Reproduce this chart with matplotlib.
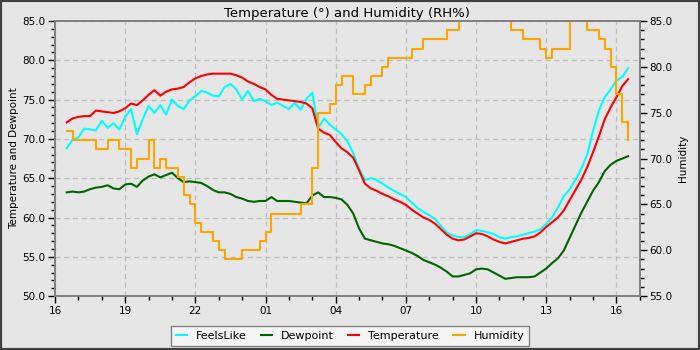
import numpy as np
import matplotlib
matplotlib.use("Agg")
import matplotlib.pyplot as plt
from matplotlib.patches import Rectangle
from matplotlib.ticker import MultipleLocator, FormatStrFormatter, FixedLocator

# hours after 16:00, one reading every 15 minutes (16:30 -> 16:30 next day)
hours = [0.5 + 0.25 * i for i in range(97)]

temperature = [
    72.1, 72.6, 72.8, 72.9, 72.9, 73.6, 73.5, 73.4, 73.3, 73.5,
    73.9, 74.5, 74.3, 74.9, 75.6, 76.2, 75.5, 76.0, 76.3, 76.4,
    76.6, 77.2, 77.7, 78.0, 78.2, 78.3, 78.3, 78.3, 78.3, 78.1,
    77.8, 77.3, 77.0, 76.6, 76.3, 75.6, 75.1, 75.0, 74.9, 74.8,
    74.7, 74.5, 73.9, 71.3, 70.8, 70.5, 69.6, 68.8, 68.3, 67.6,
    66.0, 64.3, 63.7, 63.4, 63.0, 62.7, 62.3, 62.0, 61.6, 61.0,
    60.5, 60.0, 59.7, 59.2, 58.5, 57.8, 57.3, 57.1, 57.2, 57.6,
    58.0, 57.9, 57.6, 57.2, 56.9, 56.7, 56.9, 57.1, 57.3, 57.4,
    57.6, 58.1, 58.8, 59.4, 60.0, 60.9, 62.2, 63.5, 64.8, 66.4,
    68.3, 70.3, 72.5, 74.0, 75.3, 76.7, 77.6,
]

dewpoint = [
    63.2, 63.3, 63.2, 63.3, 63.6, 63.8, 63.9, 64.1, 63.7, 63.6,
    64.2, 64.3, 63.9, 64.7, 65.2, 65.5, 65.1, 65.4, 65.7, 65.0,
    64.5, 64.6, 64.5, 64.4, 64.0, 63.5, 63.2, 63.2, 63.0, 62.6,
    62.4, 62.1, 62.0, 62.1, 62.1, 62.6, 62.1, 62.1, 62.1, 62.0,
    61.9, 61.8, 62.8, 63.2, 62.6, 62.6, 62.5, 62.3, 61.6, 60.5,
    58.6, 57.3, 57.1, 56.9, 56.7, 56.6, 56.4, 56.1, 55.8, 55.5,
    55.1, 54.6, 54.3, 54.0, 53.6, 53.1, 52.5, 52.5, 52.7, 52.9,
    53.4, 53.5, 53.4, 53.0, 52.6, 52.2, 52.3, 52.4, 52.4, 52.4,
    52.5, 53.0, 53.5, 54.2, 54.8, 55.8, 57.4, 59.0, 60.6, 62.0,
    63.4, 64.5, 65.9, 66.7, 67.2, 67.5, 67.8,
]

feels_like = [
    68.8, 69.9, 70.2, 71.3, 71.2, 71.1, 72.3, 71.4, 72.0, 71.2,
    72.8, 73.8, 70.6, 72.5, 74.2, 73.3, 74.3, 73.1, 75.0, 74.2,
    73.8, 74.9, 75.4, 76.1, 75.9, 75.5, 75.4, 76.6, 77.0, 76.3,
    75.0, 76.1, 74.8, 75.1, 74.8, 74.3, 74.6, 74.2, 73.8, 74.6,
    73.7, 75.1, 75.9, 71.4, 72.6, 71.8, 71.2, 70.6, 69.7, 68.2,
    66.2, 64.8, 65.0, 64.8, 64.3, 63.8, 63.4, 63.0, 62.6, 61.9,
    61.2, 60.7, 60.3, 59.8, 58.9, 58.1, 57.7, 57.5, 57.5, 57.9,
    58.4, 58.3, 58.1, 57.9, 57.5, 57.3, 57.5, 57.6, 57.8, 58.0,
    58.2, 58.5, 59.2, 60.0, 61.3, 62.7, 63.6, 64.8, 66.2, 68.0,
    71.0, 73.6, 75.3, 76.3, 77.4, 77.9, 79.0,
]

humidity = [
    73, 72, 72, 72, 72, 71, 71, 72, 72, 71,
    71, 69, 70, 70, 72, 69, 70, 69, 69, 68,
    66, 65, 63, 62, 62, 61, 60, 59, 59, 59,
    60, 60, 60, 61, 62, 64, 64, 64, 64, 64,
    65, 65, 69, 75, 75, 76, 78, 79, 79, 77,
    77, 78, 79, 79, 80, 81, 81, 81, 81, 82,
    82, 83, 83, 83, 83, 84, 84, 86, 86, 86,
    86, 86, 86, 86, 86, 86, 84, 84, 83, 83,
    83, 82, 81, 82, 82, 82, 86, 86, 86, 84,
    84, 83, 82, 80, 77, 74, 72,
]

tick_hours = [0, 3, 6, 9, 12, 15, 18, 21, 24]
tick_labels = ["16", "19", "22", "01", "04", "07", "10", "13", "16"]

bg = "#e6e6e6"
fig = plt.figure(figsize=(7, 3.5), dpi=100, facecolor=bg)
ax = fig.add_axes([0.0786, 0.154, 0.8354, 0.786])
ax.set_facecolor(bg)
ax2 = ax.twinx()

l1, = ax.plot(hours, feels_like, color="#00ffff", lw=1.5, label="FeelsLike")
l2, = ax.plot(hours, dewpoint, color="#006400", lw=1.5, label="Dewpoint")
l3, = ax.plot(hours, temperature, color="#ff0000", lw=1.5, label="Temperature")
l4, = ax2.plot(hours, humidity, color="#ffa500", lw=1.5, drawstyle="steps-post", label="Humidity")

ax.set_xlim(0, 25)
ax.set_ylim(50, 85)
ax2.set_ylim(55, 85)

ax.xaxis.set_major_locator(FixedLocator(tick_hours))
ax.set_xticklabels(tick_labels)
ax.xaxis.set_minor_locator(MultipleLocator(1))
ax.yaxis.set_major_locator(MultipleLocator(5))
ax.yaxis.set_minor_locator(MultipleLocator(1))
ax.yaxis.set_major_formatter(FormatStrFormatter("%.1f"))
ax2.yaxis.set_major_locator(MultipleLocator(5))
ax2.yaxis.set_minor_locator(MultipleLocator(1))
ax2.yaxis.set_major_formatter(FormatStrFormatter("%.1f"))

for a in (ax, ax2):
    a.tick_params(which="major", length=5, width=1, labelsize=7.5, colors="black", pad=2)
    a.tick_params(which="minor", length=3, width=1)
    for s in a.spines.values():
        s.set_color("#808080")
        s.set_linewidth(1.2)

ax.grid(True, which="major", color="#bdbdbd", linestyle=(0, (4, 3)), linewidth=0.9)
ax.set_axisbelow(True)

ax.set_title("Temperature (°) and Humidity (RH%)", fontsize=9.5, pad=3)
ax.set_ylabel("Temperature and Dewpoint", fontsize=7.5, labelpad=2)
ax2.set_ylabel("Humidity", fontsize=7.5, labelpad=4)

leg = fig.legend(handles=[l1, l2, l3, l4], loc="center", bbox_to_anchor=(0.5, 0.04),
                 ncol=4, fontsize=8, frameon=True, fancybox=False,
                 handlelength=1.0, columnspacing=1.3, borderpad=0.45)
leg.get_frame().set_facecolor("#f5f5f5")
leg.get_frame().set_edgecolor("#808080")
leg.get_frame().set_alpha(1)

fig.patches.append(Rectangle((0, 0), 1, 1, transform=fig.transFigure, fill=False,
                             edgecolor="#404040", linewidth=3, zorder=10))

fig.savefig("out.png", dpi=100, facecolor=bg)
